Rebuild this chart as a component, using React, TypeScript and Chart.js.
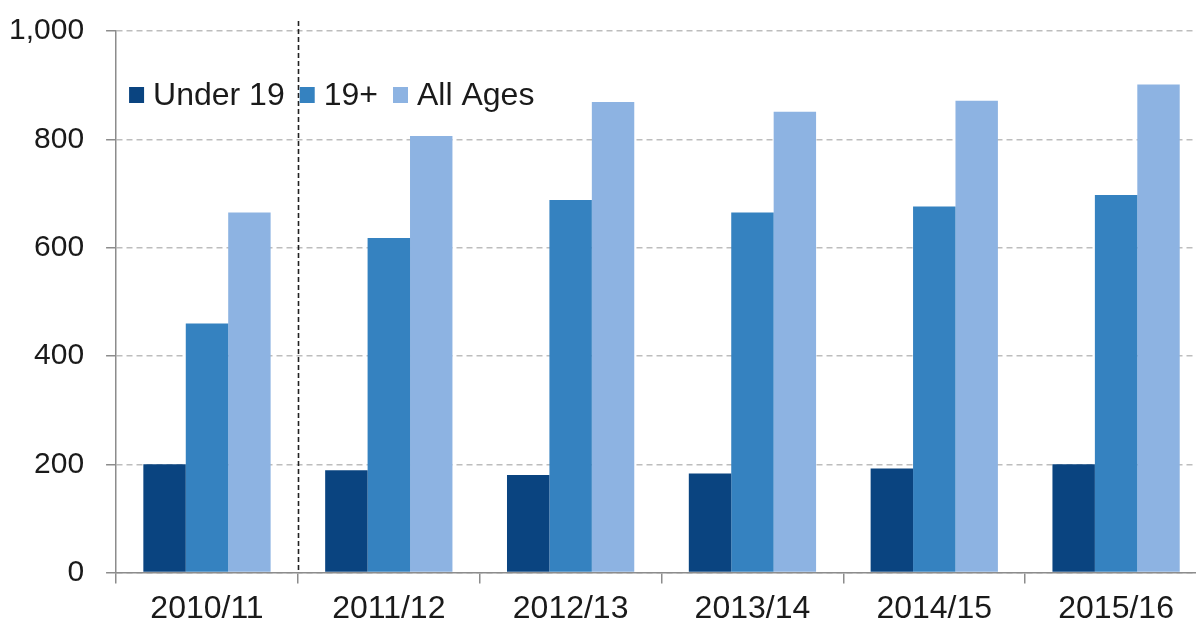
import React, { useEffect, useRef } from "react";
import { Chart, registerables } from "chart.js";

Chart.register(...registerables);

const categories = ["2010/11", "2011/12", "2012/13", "2013/14", "2014/15", "2015/16"];
const under19 = [200, 189, 180, 183, 192, 200];
const age19plus = [460, 618, 688, 665, 676, 697];
const allAges = [665, 806, 869, 851, 871, 901];
const seriesLabels = ["Under 19", "19+", "All Ages"];
const seriesColors = ["#0A4480", "#3582C0", "#8DB3E2"];

const FONT = "'Liberation Sans', Arial, sans-serif";

const legendPlugin = {
  id: "insideLegend",
  afterDraw(chart: any) {
    const ctx = chart.ctx;
    ctx.save();
    ctx.font = `32px ${FONT}`;
    ctx.textBaseline = "middle";
    ctx.textAlign = "left";
    let x = chart.chartArea.left + 13;
    const yc = chart.chartArea.top + 64;
    chart.data.datasets.forEach((ds: any) => {
      ctx.fillStyle = ds.backgroundColor;
      ctx.fillRect(x, yc - 8, 15, 16);
      x += 15 + 9;
      ctx.fillStyle = "#1a1a1a";
      ctx.fillText(ds.label, x, yc + 1);
      x += ctx.measureText(ds.label).width + 15;
    });
    ctx.restore();
  },
};

const dividerPlugin = {
  id: "divider",
  afterDatasetsDraw(chart: any) {
    const xs = chart.scales.x;
    const area = chart.chartArea;
    const px = Math.round((xs.getPixelForValue(0) + xs.getPixelForValue(1)) / 2) + 0.5;
    const ctx = chart.ctx;
    ctx.save();
    ctx.strokeStyle = "#222";
    ctx.lineWidth = 1.6;
    ctx.setLineDash([5, 3]);
    ctx.beginPath();
    ctx.moveTo(px, area.top - 10);
    ctx.lineTo(px, area.bottom);
    ctx.stroke();
    ctx.restore();
  },
};

export default function App() {
  const ref = useRef<HTMLCanvasElement>(null);
  useEffect(() => {
    if (!ref.current) return;
    const data = [under19, age19plus, allAges];
    const chart = new Chart(ref.current, {
      type: "bar",
      data: {
        labels: categories,
        datasets: seriesLabels.map((label, i) => ({
          label,
          data: data[i],
          backgroundColor: seriesColors[i],
          borderWidth: 0,
          categoryPercentage: 0.7,
          barPercentage: 1.0,
        })),
      },
      options: {
        animation: false,
        responsive: false,
        maintainAspectRatio: false,
        devicePixelRatio: 1,
        layout: { padding: { left: 10, right: 8, top: 8, bottom: 0 } },
        plugins: {
          legend: { display: false },
          tooltip: { enabled: false },
          title: { display: false },
        },
        scales: {
          x: {
            offset: true,
            grid: {
              offset: true,
              drawOnChartArea: false,
              drawTicks: true,
              tickLength: 11,
              tickColor: "#8c8c8c",
              lineWidth: 1.5,
            },
            border: { display: true, color: "#8c8c8c", width: 1.5 },
            ticks: {
              color: "#1a1a1a",
              font: { family: FONT, size: 32 },
              padding: 6,
              maxRotation: 0,
            },
          },
          y: {
            min: 0,
            max: 1000,
            ticks: {
              stepSize: 200,
              color: "#1a1a1a",
              font: { family: FONT, size: 30 },
              padding: 22,
            },
            grid: {
              color: "#bdbdbd",
              lineWidth: 1.5,
              tickLength: 10,
              tickColor: "#8c8c8c",
            },
            border: { display: true, color: "#8c8c8c", width: 1.5, dash: [6, 4] },
          },
        },
      },
      plugins: [legendPlugin, dividerPlugin],
    });
    return () => chart.destroy();
  }, []);
  return (
    <div style={{ position: "fixed", left: 0, top: 0, width: 1196, height: 624, overflow: "hidden", background: "#fff" }}>
      <canvas
        ref={ref}
        width={1238}
        height={643}
        style={{ display: "block", position: "absolute", left: -23, top: -9 }}
      />
    </div>
  );
}
